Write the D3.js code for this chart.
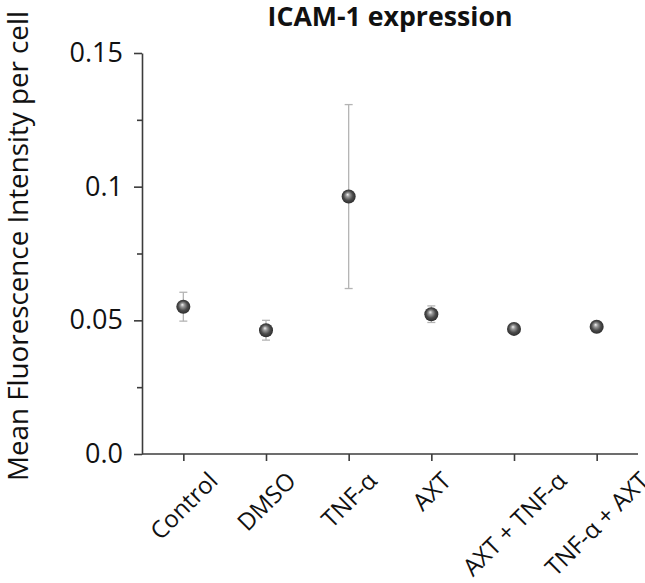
<!DOCTYPE html>
<html>
<head>
<meta charset="utf-8">
<script src="https://cdn.jsdelivr.net/npm/d3@7"></script>
<style>
  body { margin: 0; background: #fff; }
  svg { font-family: "Open Sans", "DejaVu Sans", sans-serif; }
</style>
</head>
<body>
<div id="chart"></div>
<script>
// Values
var categories = ["Control", "DMSO", "TNF-\u03b1", "AXT", "AXT + TNF-\u03b1", "TNF-\u03b1 + AXT"];
var means = [0.0551, 0.0463, 0.0963, 0.0523, 0.0468, 0.0476];
var errors = [0.0054, 0.0037, 0.0344, 0.0031, 0.0008, 0.0008];
var yTicks = [0, 0.05, 0.1, 0.15];
var yTickLabels = ["0.0", "0.05", "0.1", "0.15"];
var yMinorTicks = [0.025, 0.075, 0.125];

var width = 645, height = 583;
var margin = {top: 53, right: 7, bottom: 129, left: 142};

var svg = d3.select("#chart").append("svg")
    .attr("width", width)
    .attr("height", height);

var defs = svg.append("defs");
var grad = defs.append("radialGradient")
    .attr("id", "ball")
    .attr("cx", "50%").attr("cy", "50%").attr("r", "55%")
    .attr("fx", "42%").attr("fy", "35%");
grad.append("stop").attr("offset", "0%").attr("stop-color", "#f2f2f2");
grad.append("stop").attr("offset", "25%").attr("stop-color", "#9a9a9a");
grad.append("stop").attr("offset", "60%").attr("stop-color", "#4c4c4c");
grad.append("stop").attr("offset", "100%").attr("stop-color", "#262626");

var x = d3.scalePoint()
    .domain(categories)
    .range([margin.left, width - margin.right])
    .padding(0.5);

var y = d3.scaleLinear()
    .domain([0, 0.15])
    .range([height - margin.bottom, margin.top]);

// Y axis
var yAxis = svg.append("g")
    .attr("class", "y-axis")
    .attr("transform", "translate(" + margin.left + ",0)")
    .call(d3.axisLeft(y)
        .tickValues(yTicks)
        .tickFormat(function(d, i) { return yTickLabels[i]; })
        .tickSizeInner(8)
        .tickSizeOuter(0)
        .tickPadding(11));

svg.append("g")
    .attr("class", "y-minor")
    .attr("transform", "translate(" + margin.left + ",0)")
    .call(d3.axisLeft(y)
        .tickValues(yMinorTicks)
        .tickFormat("")
        .tickSizeInner(5)
        .tickSizeOuter(0))
    .select(".domain").remove();

// X axis
var xAxis = svg.append("g")
    .attr("class", "x-axis")
    .attr("transform", "translate(0," + (height - margin.bottom) + ")")
    .call(d3.axisBottom(x)
        .tickSizeInner(7)
        .tickSizeOuter(0));

xAxis.select(".domain").attr("d", "M" + margin.left + ",0H" + (width - margin.right));

svg.selectAll(".y-axis, .y-minor, .x-axis").attr("font-family", null);

svg.selectAll(".domain, .tick line")
    .attr("stroke", "#3c3c3c")
    .attr("stroke-width", 1.6);

yAxis.selectAll("text")
    .attr("font-size", 27)
    .attr("fill", "#111");

// Rotated category labels, centred under each tick
var labelFont = 24;
xAxis.selectAll(".tick text")
    .attr("font-size", labelFont)
    .attr("fill", "#111")
    .attr("text-anchor", "middle")
    .attr("dy", "0.35em")
    .attr("y", 0)
    .attr("transform", function() {
      var w = this.getComputedTextLength();
      var cy = 14 + (w + labelFont) * 0.7071 / 2;
      return "translate(0," + cy + ") rotate(-45)";
    });

// Error bars
var capW = 4;
var bars = svg.append("g").attr("class", "errors")
  .selectAll("g")
  .data(categories)
  .join("g")
    .attr("stroke", "#b4b4b4")
    .attr("stroke-width", 1.3);

bars.append("line")
    .attr("x1", function(d) { return x(d); })
    .attr("x2", function(d) { return x(d); })
    .attr("y1", function(d, i) { return y(means[i] + errors[i]); })
    .attr("y2", function(d, i) { return y(means[i] - errors[i]); });

bars.append("line")
    .attr("x1", function(d) { return x(d) - capW; })
    .attr("x2", function(d) { return x(d) + capW; })
    .attr("y1", function(d, i) { return y(means[i] + errors[i]); })
    .attr("y2", function(d, i) { return y(means[i] + errors[i]); });

bars.append("line")
    .attr("x1", function(d) { return x(d) - capW; })
    .attr("x2", function(d) { return x(d) + capW; })
    .attr("y1", function(d, i) { return y(means[i] - errors[i]); })
    .attr("y2", function(d, i) { return y(means[i] - errors[i]); });

// Points
svg.append("g").attr("class", "points")
  .selectAll("circle")
  .data(categories)
  .join("circle")
    .attr("cx", function(d) { return x(d); })
    .attr("cy", function(d, i) { return y(means[i]); })
    .attr("r", 7)
    .attr("fill", "url(#ball)");

// Title, sized to span the same width as in the reference
var title = svg.append("text")
    .attr("x", (margin.left + width - margin.right) / 2)
    .attr("y", 26)
    .attr("text-anchor", "middle")
    .attr("font-size", 24)
    .attr("font-weight", "bold")
    .attr("fill", "#111")
    .text("ICAM-1 expression");
var tw = title.node().getComputedTextLength();
title.attr("font-size", Math.min(34, 24 * 245 / tw));

// Y axis title
var ylab = svg.append("text")
    .attr("transform", "translate(28," + 246 + ") rotate(-90)")
    .attr("text-anchor", "middle")
    .attr("font-size", 26)
    .attr("fill", "#111")
    .text("Mean Fluorescence Intensity per cell");
var lw = ylab.node().getComputedTextLength();
ylab.attr("font-size", Math.min(32, 26 * 470 / lw));
</script>
</body>
</html>
